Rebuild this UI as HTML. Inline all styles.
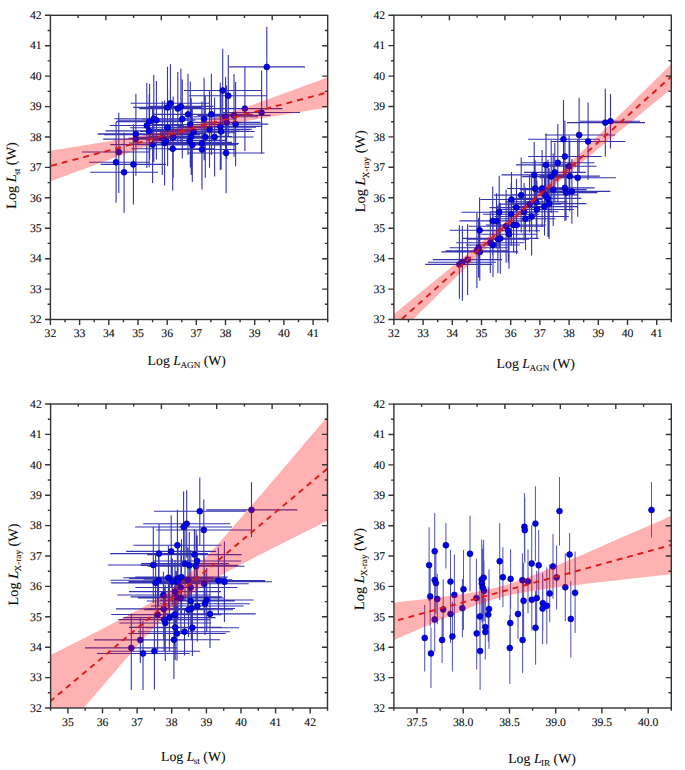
<!DOCTYPE html>
<html><head><meta charset="utf-8"><style>
html,body{margin:0;padding:0;background:#fff;overflow:hidden;width:685px;height:770px;}
svg{display:block;font-family:"Liberation Serif", serif;text-rendering:geometricPrecision;}
</style></head><body>
<svg width="685" height="770" viewBox="0 0 685 770">
<rect width="685" height="770" fill="#fff"/>
<clipPath id="cp1"><rect x="50.4" y="15.3" width="277.3" height="304.2"/></clipPath>
<g clip-path="url(#cp1)">
<path d="M82.0 152.0H150.0M118.8 112.8V193.0M89.1 162.3H150.0M116.1 122.0V202.8M90.0 172.3H158.0M124.1 132.5V212.7M100.7 164.4H166.1M133.4 124.3V204.5M97.5 134.1H172.0M135.9 93.8V175.7M103.1 139.1H168.7M135.9 102.4V175.8M109.7 125.5H183.9M146.8 82.9V168.1M116.1 121.6H183.1M149.6 83.8V159.4M114.3 118.7H193.3M153.8 75.1V162.3M117.5 120.2H195.3M156.4 81.0V159.4M105.5 130.9H192.9M149.2 94.5V167.3M110.3 144.6H194.9M152.6 106.3V182.9M128.6 138.2H196.0M162.3 101.3V175.1M128.9 143.0H200.3M164.6 100.5V185.5M133.3 107.4H201.7M167.5 66.7V148.1M130.7 103.2H210.1M170.4 64.2V142.2M139.2 108.6H216.4M177.8 72.1V145.1M148.2 106.4H213.6M180.9 68.8V144.0M142.1 119.0H222.5M182.3 79.6V158.4M152.2 114.4H223.8M188.0 73.7V155.1M130.2 127.8H205.0M167.6 89.4V166.2M131.2 148.8H214.2M172.7 107.2V190.4M138.3 137.2H208.1M173.2 96.6V177.8M152.0 124.5H228.6M190.3 81.5V167.5M150.4 136.5H232.0M191.2 98.2V174.8M148.5 145.0H236.1M192.3 108.1V181.9M164.9 143.5H238.9M201.9 101.4V185.6M168.2 149.5H235.8M202.0 109.6V189.4M171.6 119.0H236.6M204.1 77.7V160.3M170.2 114.3H252.6M211.4 73.7V154.9M167.0 129.3H252.0M209.5 90.8V167.8M165.0 137.0H245.6M205.3 96.2V177.8M175.6 137.0H253.6M214.6 97.4V176.6M178.2 126.4H262.4M220.3 82.8V170.0M184.0 90.5H261.9M222.7 48.7V132.0M189.0 95.8H267.3M228.3 54.9V136.7M207.5 108.6H282.3M244.9 66.9V151.0M223.0 112.5H300.1M261.6 70.5V153.7M197.4 115.4H270.6M234.0 74.1V156.7M193.3 116.7H257.9M225.6 77.0V156.4M192.6 122.4H260.6M226.6 85.5V159.3M202.9 124.1H268.3M235.6 82.0V166.2M187.5 131.5H254.7M221.1 93.5V169.5M188.0 153.0H264.6M226.1 113.0V193.3M229.1 66.9H305.0M266.8 26.8V107.0M99.0 133.8H206.0M104.0 134.6H200.0M148.0 136.2H228.0M150.0 138.3H214.0M140.0 131.4H240.0M150.0 129.6H250.0M152.0 140.4H226.0M155.0 142.4H232.0M170.0 127.2H256.0M160.0 132.8H236.0M160.0 144.2H238.0" stroke="#1e1ea8" stroke-opacity="0.9" stroke-width="1.1" fill="none"/>
<circle cx="118.8" cy="152.0" r="2.95" fill="#0000f4" stroke="#00006a" stroke-width="0.6"/>
<circle cx="116.1" cy="162.3" r="2.95" fill="#0000f4" stroke="#00006a" stroke-width="0.6"/>
<circle cx="124.1" cy="172.3" r="2.95" fill="#0000f4" stroke="#00006a" stroke-width="0.6"/>
<circle cx="133.4" cy="164.4" r="2.95" fill="#0000f4" stroke="#00006a" stroke-width="0.6"/>
<circle cx="135.9" cy="134.1" r="2.95" fill="#0000f4" stroke="#00006a" stroke-width="0.6"/>
<circle cx="135.9" cy="139.1" r="2.95" fill="#0000f4" stroke="#00006a" stroke-width="0.6"/>
<circle cx="146.8" cy="125.5" r="2.95" fill="#0000f4" stroke="#00006a" stroke-width="0.6"/>
<circle cx="149.6" cy="121.6" r="2.95" fill="#0000f4" stroke="#00006a" stroke-width="0.6"/>
<circle cx="153.8" cy="118.7" r="2.95" fill="#0000f4" stroke="#00006a" stroke-width="0.6"/>
<circle cx="156.4" cy="120.2" r="2.95" fill="#0000f4" stroke="#00006a" stroke-width="0.6"/>
<circle cx="149.2" cy="130.9" r="2.95" fill="#0000f4" stroke="#00006a" stroke-width="0.6"/>
<circle cx="152.6" cy="144.6" r="2.95" fill="#0000f4" stroke="#00006a" stroke-width="0.6"/>
<circle cx="162.3" cy="138.2" r="2.95" fill="#0000f4" stroke="#00006a" stroke-width="0.6"/>
<circle cx="164.6" cy="143.0" r="2.95" fill="#0000f4" stroke="#00006a" stroke-width="0.6"/>
<circle cx="167.5" cy="107.4" r="2.95" fill="#0000f4" stroke="#00006a" stroke-width="0.6"/>
<circle cx="170.4" cy="103.2" r="2.95" fill="#0000f4" stroke="#00006a" stroke-width="0.6"/>
<circle cx="177.8" cy="108.6" r="2.95" fill="#0000f4" stroke="#00006a" stroke-width="0.6"/>
<circle cx="180.9" cy="106.4" r="2.95" fill="#0000f4" stroke="#00006a" stroke-width="0.6"/>
<circle cx="182.3" cy="119.0" r="2.95" fill="#0000f4" stroke="#00006a" stroke-width="0.6"/>
<circle cx="188.0" cy="114.4" r="2.95" fill="#0000f4" stroke="#00006a" stroke-width="0.6"/>
<circle cx="167.6" cy="127.8" r="2.95" fill="#0000f4" stroke="#00006a" stroke-width="0.6"/>
<circle cx="172.7" cy="148.8" r="2.95" fill="#0000f4" stroke="#00006a" stroke-width="0.6"/>
<circle cx="173.2" cy="137.2" r="2.95" fill="#0000f4" stroke="#00006a" stroke-width="0.6"/>
<circle cx="190.3" cy="124.5" r="2.95" fill="#0000f4" stroke="#00006a" stroke-width="0.6"/>
<circle cx="191.2" cy="136.5" r="2.95" fill="#0000f4" stroke="#00006a" stroke-width="0.6"/>
<circle cx="192.3" cy="145.0" r="2.95" fill="#0000f4" stroke="#00006a" stroke-width="0.6"/>
<circle cx="201.9" cy="143.5" r="2.95" fill="#0000f4" stroke="#00006a" stroke-width="0.6"/>
<circle cx="202.0" cy="149.5" r="2.95" fill="#0000f4" stroke="#00006a" stroke-width="0.6"/>
<circle cx="204.1" cy="119.0" r="2.95" fill="#0000f4" stroke="#00006a" stroke-width="0.6"/>
<circle cx="211.4" cy="114.3" r="2.95" fill="#0000f4" stroke="#00006a" stroke-width="0.6"/>
<circle cx="209.5" cy="129.3" r="2.95" fill="#0000f4" stroke="#00006a" stroke-width="0.6"/>
<circle cx="205.3" cy="137.0" r="2.95" fill="#0000f4" stroke="#00006a" stroke-width="0.6"/>
<circle cx="214.6" cy="137.0" r="2.95" fill="#0000f4" stroke="#00006a" stroke-width="0.6"/>
<circle cx="220.3" cy="126.4" r="2.95" fill="#0000f4" stroke="#00006a" stroke-width="0.6"/>
<circle cx="222.7" cy="90.5" r="2.95" fill="#0000f4" stroke="#00006a" stroke-width="0.6"/>
<circle cx="228.3" cy="95.8" r="2.95" fill="#0000f4" stroke="#00006a" stroke-width="0.6"/>
<circle cx="244.9" cy="108.6" r="2.95" fill="#0000f4" stroke="#00006a" stroke-width="0.6"/>
<circle cx="261.6" cy="112.5" r="2.95" fill="#0000f4" stroke="#00006a" stroke-width="0.6"/>
<circle cx="234.0" cy="115.4" r="2.95" fill="#0000f4" stroke="#00006a" stroke-width="0.6"/>
<circle cx="225.6" cy="116.7" r="2.95" fill="#0000f4" stroke="#00006a" stroke-width="0.6"/>
<circle cx="226.6" cy="122.4" r="2.95" fill="#0000f4" stroke="#00006a" stroke-width="0.6"/>
<circle cx="235.6" cy="124.1" r="2.95" fill="#0000f4" stroke="#00006a" stroke-width="0.6"/>
<circle cx="221.1" cy="131.5" r="2.95" fill="#0000f4" stroke="#00006a" stroke-width="0.6"/>
<circle cx="226.1" cy="153.0" r="2.95" fill="#0000f4" stroke="#00006a" stroke-width="0.6"/>
<circle cx="266.8" cy="66.9" r="2.95" fill="#0000f4" stroke="#00006a" stroke-width="0.6"/>
<circle cx="193.6" cy="131.8" r="2.95" fill="#0000f4" stroke="#00006a" stroke-width="0.6"/>
<circle cx="189.6" cy="140.8" r="2.95" fill="#0000f4" stroke="#00006a" stroke-width="0.6"/>
<circle cx="166.0" cy="141.0" r="2.95" fill="#0000f4" stroke="#00006a" stroke-width="0.6"/>
<polygon points="50.4,150.7 55.0,150.0 59.6,149.2 64.3,148.5 68.9,147.7 73.5,147.0 78.1,146.2 82.8,145.4 87.4,144.7 92.0,143.9 96.6,143.2 101.2,142.4 105.9,141.7 110.5,140.9 115.1,140.1 119.7,139.3 124.3,138.6 129.0,137.8 133.6,137.0 138.2,136.2 142.8,135.4 147.5,134.5 152.1,133.7 156.7,132.8 161.3,131.9 165.9,131.0 170.6,130.1 175.2,129.1 179.8,128.0 184.4,126.9 189.1,125.7 193.7,124.5 198.3,123.2 202.9,121.8 207.5,120.4 212.2,118.9 216.8,117.3 221.4,115.8 226.0,114.2 230.6,112.6 235.3,111.0 239.9,109.4 244.5,107.7 249.1,106.1 253.8,104.4 258.4,102.7 263.0,101.0 267.6,99.4 272.2,97.7 276.9,96.0 281.5,94.3 286.1,92.6 290.7,90.9 295.3,89.2 300.0,87.5 304.6,85.8 309.2,84.1 313.8,82.4 318.5,80.7 323.1,79.0 327.7,77.3 327.7,107.5 323.1,108.3 318.5,109.0 313.8,109.7 309.2,110.5 304.6,111.2 300.0,112.0 295.3,112.8 290.7,113.5 286.1,114.3 281.5,115.0 276.9,115.8 272.2,116.6 267.6,117.3 263.0,118.1 258.4,118.9 253.8,119.7 249.1,120.5 244.5,121.3 239.9,122.1 235.3,122.9 230.6,123.7 226.0,124.6 221.4,125.4 216.8,126.3 212.2,127.3 207.5,128.2 202.9,129.2 198.3,130.3 193.7,131.5 189.1,132.7 184.4,133.9 179.8,135.3 175.2,136.7 170.6,138.1 165.9,139.6 161.3,141.2 156.7,142.8 152.1,144.3 147.5,146.0 142.8,147.6 138.2,149.2 133.6,150.9 129.0,152.5 124.3,154.2 119.7,155.9 115.1,157.5 110.5,159.2 105.9,160.9 101.2,162.6 96.6,164.3 92.0,166.0 87.4,167.7 82.8,169.4 78.1,171.1 73.5,172.8 68.9,174.5 64.3,176.2 59.6,177.9 55.0,179.6 50.4,181.3" fill="#ff0000" fill-opacity="0.3"/>
<line x1="50.4" y1="166.0" x2="327.7" y2="92.4" stroke="#dc1a1a" stroke-width="1.9" stroke-dasharray="5.98 5.09" stroke-dashoffset="-0.7"/>
</g>
<rect x="50.4" y="15.3" width="277.3" height="304.2" fill="none" stroke="#333333" stroke-width="1.4"/>
<path d="M44.9 319.5H50.4M47.6 304.3H50.4M324.9 304.3H327.7M44.9 289.1H50.4M322.2 289.1H327.7M47.6 273.9H50.4M324.9 273.9H327.7M44.9 258.7H50.4M322.2 258.7H327.7M47.6 243.4H50.4M324.9 243.4H327.7M44.9 228.2H50.4M322.2 228.2H327.7M47.6 213.0H50.4M324.9 213.0H327.7M44.9 197.8H50.4M322.2 197.8H327.7M47.6 182.6H50.4M324.9 182.6H327.7M44.9 167.4H50.4M322.2 167.4H327.7M47.6 152.2H50.4M324.9 152.2H327.7M44.9 137.0H50.4M322.2 137.0H327.7M47.6 121.8H50.4M324.9 121.8H327.7M44.9 106.6H50.4M322.2 106.6H327.7M47.6 91.4H50.4M324.9 91.4H327.7M44.9 76.1H50.4M322.2 76.1H327.7M47.6 60.9H50.4M324.9 60.9H327.7M44.9 45.7H50.4M322.2 45.7H327.7M47.6 30.5H50.4M324.9 30.5H327.7M44.9 15.3H50.4M50.4 319.5V324.9M65.0 319.5V322.3M79.6 319.5V324.9M94.2 319.5V322.3M108.8 319.5V324.9M123.4 319.5V322.3M138.0 319.5V324.9M152.6 319.5V322.3M167.2 319.5V324.9M181.8 319.5V322.3M196.3 319.5V324.9M210.9 319.5V322.3M225.5 319.5V324.9M240.1 319.5V322.3M254.7 319.5V324.9M269.3 319.5V322.3M283.9 319.5V324.9M298.5 319.5V322.3M313.1 319.5V324.9M327.7 319.5V322.3M78.1 15.3V17.9M105.9 15.3V20.3M133.6 15.3V17.9M161.3 15.3V20.3M189.1 15.3V17.9M216.8 15.3V20.3M244.5 15.3V17.9M272.2 15.3V20.3M300.0 15.3V17.9" stroke="#333333" stroke-width="1.4" fill="none"/>
<text x="41.6" y="323.2" text-anchor="end" font-size="11.7" fill="#0a0a0a" stroke="#0a0a0a" stroke-width="0.08">32</text>
<text x="41.6" y="292.8" text-anchor="end" font-size="11.7" fill="#0a0a0a" stroke="#0a0a0a" stroke-width="0.08">33</text>
<text x="41.6" y="262.4" text-anchor="end" font-size="11.7" fill="#0a0a0a" stroke="#0a0a0a" stroke-width="0.08">34</text>
<text x="41.6" y="231.9" text-anchor="end" font-size="11.7" fill="#0a0a0a" stroke="#0a0a0a" stroke-width="0.08">35</text>
<text x="41.6" y="201.5" text-anchor="end" font-size="11.7" fill="#0a0a0a" stroke="#0a0a0a" stroke-width="0.08">36</text>
<text x="41.6" y="171.1" text-anchor="end" font-size="11.7" fill="#0a0a0a" stroke="#0a0a0a" stroke-width="0.08">37</text>
<text x="41.6" y="140.7" text-anchor="end" font-size="11.7" fill="#0a0a0a" stroke="#0a0a0a" stroke-width="0.08">38</text>
<text x="41.6" y="110.3" text-anchor="end" font-size="11.7" fill="#0a0a0a" stroke="#0a0a0a" stroke-width="0.08">39</text>
<text x="41.6" y="79.8" text-anchor="end" font-size="11.7" fill="#0a0a0a" stroke="#0a0a0a" stroke-width="0.08">40</text>
<text x="41.6" y="49.4" text-anchor="end" font-size="11.7" fill="#0a0a0a" stroke="#0a0a0a" stroke-width="0.08">41</text>
<text x="41.6" y="19.0" text-anchor="end" font-size="11.7" fill="#0a0a0a" stroke="#0a0a0a" stroke-width="0.08">42</text>
<text x="50.4" y="337.4" text-anchor="middle" font-size="11.7" fill="#0a0a0a" stroke="#0a0a0a" stroke-width="0.08">32</text>
<text x="79.6" y="337.4" text-anchor="middle" font-size="11.7" fill="#0a0a0a" stroke="#0a0a0a" stroke-width="0.08">33</text>
<text x="108.8" y="337.4" text-anchor="middle" font-size="11.7" fill="#0a0a0a" stroke="#0a0a0a" stroke-width="0.08">34</text>
<text x="138.0" y="337.4" text-anchor="middle" font-size="11.7" fill="#0a0a0a" stroke="#0a0a0a" stroke-width="0.08">35</text>
<text x="167.2" y="337.4" text-anchor="middle" font-size="11.7" fill="#0a0a0a" stroke="#0a0a0a" stroke-width="0.08">36</text>
<text x="196.3" y="337.4" text-anchor="middle" font-size="11.7" fill="#0a0a0a" stroke="#0a0a0a" stroke-width="0.08">37</text>
<text x="225.5" y="337.4" text-anchor="middle" font-size="11.7" fill="#0a0a0a" stroke="#0a0a0a" stroke-width="0.08">38</text>
<text x="254.7" y="337.4" text-anchor="middle" font-size="11.7" fill="#0a0a0a" stroke="#0a0a0a" stroke-width="0.08">39</text>
<text x="283.9" y="337.4" text-anchor="middle" font-size="11.7" fill="#0a0a0a" stroke="#0a0a0a" stroke-width="0.08">40</text>
<text x="313.1" y="337.4" text-anchor="middle" font-size="11.7" fill="#0a0a0a" stroke="#0a0a0a" stroke-width="0.08">41</text>
<text x="147.6" y="364.5" font-size="13.8" fill="#0a0a0a" stroke="#0a0a0a" stroke-width="0.08">Log <tspan font-style="italic">L</tspan><tspan font-size="9.2" dx="-0.6" dy="3.3">AGN</tspan><tspan dy="-3.3"> (W)</tspan></text>
<text x="16.5" y="208.8" transform="rotate(-90 16.5 208.8)" font-size="14.3" fill="#0a0a0a" stroke="#0a0a0a" stroke-width="0.08">Log <tspan font-style="italic">L</tspan><tspan font-size="9.2" dx="-0.6" dy="3.3">st</tspan><tspan dy="-3.3"> (W)</tspan></text>
<clipPath id="cp2"><rect x="393.9" y="15.2" width="277.4" height="304.3"/></clipPath>
<g clip-path="url(#cp2)">
<path d="M425.2 264.4H492.0M459.4 225.3V299.1M428.0 262.2H496.0M462.4 226.0V300.8M432.8 259.6H502.0M467.6 224.3V294.9M445.6 250.7H508.2M476.9 213.1V288.3M441.3 251.9H518.3M479.8 223.1V280.7M449.5 247.8H507.7M478.6 218.0V277.6M449.8 230.3H509.4M479.6 197.5V263.1M456.2 242.7H524.4M490.3 212.5V272.9M466.0 245.0H520.0M493.0 213.0V277.0M466.5 239.1H529.3M497.9 205.3V272.9M461.9 238.4H538.7M500.3 203.1V273.7M459.5 220.9H525.9M492.7 186.5V255.3M461.4 220.9H531.6M496.5 193.3V248.5M461.4 212.2H537.0M499.2 175.8V248.6M468.6 226.2H543.6M506.1 189.6V262.8M476.6 230.8H540.0M508.3 199.0V262.6M480.8 234.2H537.2M509.0 199.6V268.8M485.9 225.0H541.3M513.6 197.2V252.8M487.1 225.0H546.1M516.6 196.1V253.9M480.4 199.5H542.6M511.5 171.9V227.1M489.5 207.6H543.5M516.5 178.8V236.4M483.0 214.3H539.4M511.2 182.9V245.7M493.9 195.1H548.5M521.2 157.6V232.6M489.7 211.7H558.5M524.1 182.9V240.5M495.5 218.7H555.5M525.5 187.5V249.9M498.2 204.1H561.0M529.6 175.6V232.6M494.4 216.5H568.8M531.6 177.6V255.4M501.6 174.9H566.8M534.2 142.1V207.7M507.1 188.5H563.1M535.1 160.3V216.7M505.2 201.9H567.4M536.3 171.7V232.1M500.0 209.5H573.8M536.9 180.6V238.4M514.8 188.5H569.4M542.1 150.1V226.9M511.2 206.6H577.8M544.5 177.8V235.4M511.5 194.9H578.5M545.0 167.6V222.2M514.7 198.4H581.3M548.0 159.7V237.1M511.7 203.6H586.5M549.1 168.2V239.0M515.9 164.9H576.1M546.0 133.5V196.3M522.2 176.6H580.2M551.2 140.3V212.9M519.8 189.6H586.6M553.2 153.3V225.9M523.8 172.4H585.8M554.8 142.7V202.1M521.1 162.8H594.5M557.8 124.0V201.6M528.0 139.2H600.0M563.5 100.1V178.0M528.1 156.5H601.7M564.9 120.6V192.4M535.2 187.9H594.6M564.9 154.7V221.1M534.8 192.6H597.4M566.1 165.3V219.9M541.8 166.2H596.4M569.1 135.8V196.6M539.6 176.1H599.8M569.7 140.8V211.4M533.4 191.4H610.4M571.9 159.0V223.8M539.5 177.8H615.9M577.7 138.9V216.7M545.0 135.0H615.0M579.1 97.8V172.0M551.0 141.5H625.4M588.1 102.6V180.0M567.0 122.6H645.0M605.3 88.8V156.6M580.0 121.2H640.0M610.5 93.9V148.6" stroke="#1e1ea8" stroke-opacity="0.9" stroke-width="1.1" fill="none"/>
<circle cx="459.4" cy="264.4" r="2.95" fill="#0000f4" stroke="#00006a" stroke-width="0.6"/>
<circle cx="462.4" cy="262.2" r="2.95" fill="#0000f4" stroke="#00006a" stroke-width="0.6"/>
<circle cx="467.6" cy="259.6" r="2.95" fill="#0000f4" stroke="#00006a" stroke-width="0.6"/>
<circle cx="476.9" cy="250.7" r="2.95" fill="#0000f4" stroke="#00006a" stroke-width="0.6"/>
<circle cx="479.8" cy="251.9" r="2.95" fill="#0000f4" stroke="#00006a" stroke-width="0.6"/>
<circle cx="478.6" cy="247.8" r="2.95" fill="#0000f4" stroke="#00006a" stroke-width="0.6"/>
<circle cx="479.6" cy="230.3" r="2.95" fill="#0000f4" stroke="#00006a" stroke-width="0.6"/>
<circle cx="490.3" cy="242.7" r="2.95" fill="#0000f4" stroke="#00006a" stroke-width="0.6"/>
<circle cx="493.0" cy="245.0" r="2.95" fill="#0000f4" stroke="#00006a" stroke-width="0.6"/>
<circle cx="497.9" cy="239.1" r="2.95" fill="#0000f4" stroke="#00006a" stroke-width="0.6"/>
<circle cx="500.3" cy="238.4" r="2.95" fill="#0000f4" stroke="#00006a" stroke-width="0.6"/>
<circle cx="492.7" cy="220.9" r="2.95" fill="#0000f4" stroke="#00006a" stroke-width="0.6"/>
<circle cx="496.5" cy="220.9" r="2.95" fill="#0000f4" stroke="#00006a" stroke-width="0.6"/>
<circle cx="499.2" cy="212.2" r="2.95" fill="#0000f4" stroke="#00006a" stroke-width="0.6"/>
<circle cx="506.1" cy="226.2" r="2.95" fill="#0000f4" stroke="#00006a" stroke-width="0.6"/>
<circle cx="508.3" cy="230.8" r="2.95" fill="#0000f4" stroke="#00006a" stroke-width="0.6"/>
<circle cx="509.0" cy="234.2" r="2.95" fill="#0000f4" stroke="#00006a" stroke-width="0.6"/>
<circle cx="513.6" cy="225.0" r="2.95" fill="#0000f4" stroke="#00006a" stroke-width="0.6"/>
<circle cx="516.6" cy="225.0" r="2.95" fill="#0000f4" stroke="#00006a" stroke-width="0.6"/>
<circle cx="511.5" cy="199.5" r="2.95" fill="#0000f4" stroke="#00006a" stroke-width="0.6"/>
<circle cx="516.5" cy="207.6" r="2.95" fill="#0000f4" stroke="#00006a" stroke-width="0.6"/>
<circle cx="511.2" cy="214.3" r="2.95" fill="#0000f4" stroke="#00006a" stroke-width="0.6"/>
<circle cx="521.2" cy="195.1" r="2.95" fill="#0000f4" stroke="#00006a" stroke-width="0.6"/>
<circle cx="524.1" cy="211.7" r="2.95" fill="#0000f4" stroke="#00006a" stroke-width="0.6"/>
<circle cx="525.5" cy="218.7" r="2.95" fill="#0000f4" stroke="#00006a" stroke-width="0.6"/>
<circle cx="529.6" cy="204.1" r="2.95" fill="#0000f4" stroke="#00006a" stroke-width="0.6"/>
<circle cx="531.6" cy="216.5" r="2.95" fill="#0000f4" stroke="#00006a" stroke-width="0.6"/>
<circle cx="534.2" cy="174.9" r="2.95" fill="#0000f4" stroke="#00006a" stroke-width="0.6"/>
<circle cx="535.1" cy="188.5" r="2.95" fill="#0000f4" stroke="#00006a" stroke-width="0.6"/>
<circle cx="536.3" cy="201.9" r="2.95" fill="#0000f4" stroke="#00006a" stroke-width="0.6"/>
<circle cx="536.9" cy="209.5" r="2.95" fill="#0000f4" stroke="#00006a" stroke-width="0.6"/>
<circle cx="542.1" cy="188.5" r="2.95" fill="#0000f4" stroke="#00006a" stroke-width="0.6"/>
<circle cx="544.5" cy="206.6" r="2.95" fill="#0000f4" stroke="#00006a" stroke-width="0.6"/>
<circle cx="545.0" cy="194.9" r="2.95" fill="#0000f4" stroke="#00006a" stroke-width="0.6"/>
<circle cx="548.0" cy="198.4" r="2.95" fill="#0000f4" stroke="#00006a" stroke-width="0.6"/>
<circle cx="549.1" cy="203.6" r="2.95" fill="#0000f4" stroke="#00006a" stroke-width="0.6"/>
<circle cx="546.0" cy="164.9" r="2.95" fill="#0000f4" stroke="#00006a" stroke-width="0.6"/>
<circle cx="551.2" cy="176.6" r="2.95" fill="#0000f4" stroke="#00006a" stroke-width="0.6"/>
<circle cx="553.2" cy="189.6" r="2.95" fill="#0000f4" stroke="#00006a" stroke-width="0.6"/>
<circle cx="554.8" cy="172.4" r="2.95" fill="#0000f4" stroke="#00006a" stroke-width="0.6"/>
<circle cx="557.8" cy="162.8" r="2.95" fill="#0000f4" stroke="#00006a" stroke-width="0.6"/>
<circle cx="563.5" cy="139.2" r="2.95" fill="#0000f4" stroke="#00006a" stroke-width="0.6"/>
<circle cx="564.9" cy="156.5" r="2.95" fill="#0000f4" stroke="#00006a" stroke-width="0.6"/>
<circle cx="564.9" cy="187.9" r="2.95" fill="#0000f4" stroke="#00006a" stroke-width="0.6"/>
<circle cx="566.1" cy="192.6" r="2.95" fill="#0000f4" stroke="#00006a" stroke-width="0.6"/>
<circle cx="569.1" cy="166.2" r="2.95" fill="#0000f4" stroke="#00006a" stroke-width="0.6"/>
<circle cx="569.7" cy="176.1" r="2.95" fill="#0000f4" stroke="#00006a" stroke-width="0.6"/>
<circle cx="571.9" cy="191.4" r="2.95" fill="#0000f4" stroke="#00006a" stroke-width="0.6"/>
<circle cx="577.7" cy="177.8" r="2.95" fill="#0000f4" stroke="#00006a" stroke-width="0.6"/>
<circle cx="579.1" cy="135.0" r="2.95" fill="#0000f4" stroke="#00006a" stroke-width="0.6"/>
<circle cx="588.1" cy="141.5" r="2.95" fill="#0000f4" stroke="#00006a" stroke-width="0.6"/>
<circle cx="605.3" cy="122.6" r="2.95" fill="#0000f4" stroke="#00006a" stroke-width="0.6"/>
<circle cx="610.5" cy="121.2" r="2.95" fill="#0000f4" stroke="#00006a" stroke-width="0.6"/>
<polygon points="393.9,314.2 398.5,310.4 403.1,306.6 407.8,302.8 412.4,299.0 417.0,295.2 421.6,291.5 426.3,287.7 430.9,283.9 435.5,280.1 440.1,276.3 444.8,272.5 449.4,268.7 454.0,264.9 458.6,261.1 463.2,257.3 467.9,253.5 472.5,249.7 477.1,245.8 481.7,242.0 486.4,238.2 491.0,234.3 495.6,230.4 500.2,226.5 504.9,222.6 509.5,218.7 514.1,214.7 518.7,210.7 523.4,206.6 528.0,202.5 532.6,198.3 537.2,194.1 541.8,189.8 546.5,185.5 551.1,181.2 555.7,176.8 560.3,172.4 565.0,168.0 569.6,163.5 574.2,159.1 578.8,154.6 583.5,150.1 588.1,145.6 592.7,141.1 597.3,136.6 601.9,132.1 606.6,127.6 611.2,123.0 615.8,118.5 620.4,114.0 625.1,109.5 629.7,104.9 634.3,100.4 638.9,95.8 643.6,91.3 648.2,86.8 652.8,82.2 657.4,77.7 662.1,73.1 666.7,68.6 671.3,64.1 671.3,88.9 666.7,92.7 662.1,96.5 657.4,100.3 652.8,104.1 648.2,107.8 643.6,111.6 638.9,115.4 634.3,119.2 629.7,123.0 625.1,126.8 620.4,130.6 615.8,134.4 611.2,138.2 606.6,142.0 601.9,145.8 597.3,149.6 592.7,153.4 588.1,157.2 583.5,161.0 578.8,164.9 574.2,168.7 569.6,172.6 565.0,176.4 560.3,180.3 555.7,184.2 551.1,188.2 546.5,192.2 541.8,196.2 537.2,200.2 532.6,204.3 528.0,208.5 523.4,212.7 518.7,217.0 514.1,221.3 509.5,225.6 504.9,230.0 500.2,234.4 495.6,238.8 491.0,243.3 486.4,247.7 481.7,252.2 477.1,256.7 472.5,261.2 467.9,265.7 463.2,270.2 458.6,274.7 454.0,279.2 449.4,283.7 444.8,288.3 440.1,292.8 435.5,297.3 430.9,301.9 426.3,306.4 421.6,310.9 417.0,315.5 412.4,320.0 407.8,324.5 403.1,329.1 398.5,333.6 393.9,338.2" fill="#ff0000" fill-opacity="0.3"/>
<line x1="393.9" y1="326.2" x2="671.3" y2="76.5" stroke="#dc1a1a" stroke-width="1.9" stroke-dasharray="5.86 5.00" stroke-dashoffset="0.0"/>
</g>
<rect x="393.9" y="15.2" width="277.4" height="304.3" fill="none" stroke="#333333" stroke-width="1.4"/>
<path d="M388.4 319.5H393.9M391.1 304.3H393.9M668.5 304.3H671.3M388.4 289.1H393.9M665.8 289.1H671.3M391.1 273.9H393.9M668.5 273.9H671.3M388.4 258.6H393.9M665.8 258.6H671.3M391.1 243.4H393.9M668.5 243.4H671.3M388.4 228.2H393.9M665.8 228.2H671.3M391.1 213.0H393.9M668.5 213.0H671.3M388.4 197.8H393.9M665.8 197.8H671.3M391.1 182.6H393.9M668.5 182.6H671.3M388.4 167.3H393.9M665.8 167.3H671.3M391.1 152.1H393.9M668.5 152.1H671.3M388.4 136.9H393.9M665.8 136.9H671.3M391.1 121.7H393.9M668.5 121.7H671.3M388.4 106.5H393.9M665.8 106.5H671.3M391.1 91.3H393.9M668.5 91.3H671.3M388.4 76.1H393.9M665.8 76.1H671.3M391.1 60.8H393.9M668.5 60.8H671.3M388.4 45.6H393.9M665.8 45.6H671.3M391.1 30.4H393.9M668.5 30.4H671.3M388.4 15.2H393.9M393.9 319.5V324.9M408.5 319.5V322.3M423.1 319.5V324.9M437.7 319.5V322.3M452.3 319.5V324.9M466.9 319.5V322.3M481.5 319.5V324.9M496.1 319.5V322.3M510.7 319.5V324.9M525.3 319.5V322.3M539.9 319.5V324.9M554.5 319.5V322.3M569.1 319.5V324.9M583.7 319.5V322.3M598.3 319.5V324.9M612.9 319.5V322.3M627.5 319.5V324.9M642.1 319.5V322.3M656.7 319.5V324.9M671.3 319.5V322.3M421.6 15.2V17.8M449.4 15.2V20.2M477.1 15.2V17.8M504.9 15.2V20.2M532.6 15.2V17.8M560.3 15.2V20.2M588.1 15.2V17.8M615.8 15.2V20.2M643.6 15.2V17.8" stroke="#333333" stroke-width="1.4" fill="none"/>
<text x="385.1" y="323.2" text-anchor="end" font-size="11.7" fill="#0a0a0a" stroke="#0a0a0a" stroke-width="0.08">32</text>
<text x="385.1" y="292.8" text-anchor="end" font-size="11.7" fill="#0a0a0a" stroke="#0a0a0a" stroke-width="0.08">33</text>
<text x="385.1" y="262.3" text-anchor="end" font-size="11.7" fill="#0a0a0a" stroke="#0a0a0a" stroke-width="0.08">34</text>
<text x="385.1" y="231.9" text-anchor="end" font-size="11.7" fill="#0a0a0a" stroke="#0a0a0a" stroke-width="0.08">35</text>
<text x="385.1" y="201.5" text-anchor="end" font-size="11.7" fill="#0a0a0a" stroke="#0a0a0a" stroke-width="0.08">36</text>
<text x="385.1" y="171.0" text-anchor="end" font-size="11.7" fill="#0a0a0a" stroke="#0a0a0a" stroke-width="0.08">37</text>
<text x="385.1" y="140.6" text-anchor="end" font-size="11.7" fill="#0a0a0a" stroke="#0a0a0a" stroke-width="0.08">38</text>
<text x="385.1" y="110.2" text-anchor="end" font-size="11.7" fill="#0a0a0a" stroke="#0a0a0a" stroke-width="0.08">39</text>
<text x="385.1" y="79.8" text-anchor="end" font-size="11.7" fill="#0a0a0a" stroke="#0a0a0a" stroke-width="0.08">40</text>
<text x="385.1" y="49.3" text-anchor="end" font-size="11.7" fill="#0a0a0a" stroke="#0a0a0a" stroke-width="0.08">41</text>
<text x="385.1" y="18.9" text-anchor="end" font-size="11.7" fill="#0a0a0a" stroke="#0a0a0a" stroke-width="0.08">42</text>
<text x="393.9" y="337.4" text-anchor="middle" font-size="11.7" fill="#0a0a0a" stroke="#0a0a0a" stroke-width="0.08">32</text>
<text x="423.1" y="337.4" text-anchor="middle" font-size="11.7" fill="#0a0a0a" stroke="#0a0a0a" stroke-width="0.08">33</text>
<text x="452.3" y="337.4" text-anchor="middle" font-size="11.7" fill="#0a0a0a" stroke="#0a0a0a" stroke-width="0.08">34</text>
<text x="481.5" y="337.4" text-anchor="middle" font-size="11.7" fill="#0a0a0a" stroke="#0a0a0a" stroke-width="0.08">35</text>
<text x="510.7" y="337.4" text-anchor="middle" font-size="11.7" fill="#0a0a0a" stroke="#0a0a0a" stroke-width="0.08">36</text>
<text x="539.9" y="337.4" text-anchor="middle" font-size="11.7" fill="#0a0a0a" stroke="#0a0a0a" stroke-width="0.08">37</text>
<text x="569.1" y="337.4" text-anchor="middle" font-size="11.7" fill="#0a0a0a" stroke="#0a0a0a" stroke-width="0.08">38</text>
<text x="598.3" y="337.4" text-anchor="middle" font-size="11.7" fill="#0a0a0a" stroke="#0a0a0a" stroke-width="0.08">39</text>
<text x="627.5" y="337.4" text-anchor="middle" font-size="11.7" fill="#0a0a0a" stroke="#0a0a0a" stroke-width="0.08">40</text>
<text x="656.7" y="337.4" text-anchor="middle" font-size="11.7" fill="#0a0a0a" stroke="#0a0a0a" stroke-width="0.08">41</text>
<text x="496.6" y="367.7" font-size="13.8" fill="#0a0a0a" stroke="#0a0a0a" stroke-width="0.08">Log <tspan font-style="italic">L</tspan><tspan font-size="9.2" dx="-0.6" dy="3.3">AGN</tspan><tspan dy="-3.3"> (W)</tspan></text>
<text x="365.2" y="212.2" transform="rotate(-90 365.2 212.2)" font-size="14.3" fill="#0a0a0a" stroke="#0a0a0a" stroke-width="0.08">Log <tspan font-style="italic">L</tspan><tspan font-size="9.2" dx="-0.6" dy="3.3">X-ray</tspan><tspan dy="-3.3"> (W)</tspan></text>
<clipPath id="cp3"><rect x="50.6" y="404.0" width="276.9" height="304.0"/></clipPath>
<g clip-path="url(#cp3)">
<path d="M206.3 509.9H297.4M251.5 482.3V536.9M154.0 511.2H246.0M199.8 477.4V545.0M143.2 523.8H230.2M186.7 490.2V557.4M135.1 527.0H232.1M183.6 491.5V562.5M156.3 530.0H251.3M203.8 499.4V560.6M133.3 545.3H221.5M177.4 509.7V580.9M126.2 551.4H216.2M171.2 515.6V587.2M110.2 553.6H207.8M159.0 524.3V582.9M107.9 565.0H198.7M153.3 526.9V603.1M147.1 554.6H241.7M194.4 528.9V580.3M153.4 561.0H241.0M197.2 535.6V586.4M147.7 566.3H244.5M196.1 530.4V602.2M141.1 563.6H228.9M185.0 527.4V599.8M140.4 565.4H238.2M189.3 531.9V598.9M123.3 577.7H213.5M168.4 545.9V609.5M128.5 581.6H216.1M172.3 558.4V604.8M129.0 578.5H226.6M177.8 545.1V611.9M135.3 577.1H227.7M181.5 539.2V615.0M132.4 582.3H223.6M178.0 545.4V619.2M110.6 580.3H206.6M158.6 553.9V606.7M111.1 582.9H200.1M155.6 555.2V610.6M143.5 579.9H232.3M187.9 547.5V612.3M159.5 583.8H248.7M204.1 554.1V613.5M172.0 580.6H265.0M218.4 547.6V614.7M178.0 581.8H272.0M224.4 541.4V622.0M144.3 587.5H237.3M190.8 550.0V625.0M135.4 587.5H226.4M180.9 549.8V625.2M129.0 591.6H221.0M175.0 560.1V623.1M117.3 595.0H209.5M163.4 571.7V618.3M130.6 596.9H221.8M176.2 571.0V622.8M137.9 598.0H223.9M180.9 562.2V633.8M146.8 601.0H234.8M190.8 570.4V631.6M160.0 600.0H253.4M206.7 568.0V632.0M159.9 603.7H249.9M204.9 572.4V635.0M151.0 606.0H243.6M197.3 570.5V641.5M147.8 608.5H235.0M191.4 576.5V640.5M144.0 609.7H233.0M188.5 582.3V637.1M116.1 608.9H211.3M163.7 577.8V640.0M111.2 614.5H204.0M157.6 579.3V649.7M164.0 613.9H255.7M210.0 580.0V648.0M128.0 614.8H221.4M174.7 583.7V645.9M123.3 617.6H215.5M169.4 583.5V651.7M118.4 619.6H209.8M164.1 588.1V651.1M119.4 623.0H211.2M165.3 584.9V661.1M129.0 627.4H221.8M175.2 595.0V660.0M128.3 633.5H225.7M177.0 606.3V660.7M128.0 639.8H220.0M173.9 600.0V678.9M138.0 631.7H230.0M184.5 610.0V655.5M146.0 627.8H239.0M192.4 600.0V656.1M94.0 639.9H186.0M140.3 616.9V663.1M85.0 647.9H177.0M131.3 613.4V690.0M97.0 653.5H189.7M143.0 621.0V690.0M108.0 651.2H200.2M154.4 614.0V689.4" stroke="#1e1ea8" stroke-opacity="0.9" stroke-width="1.1" fill="none"/>
<circle cx="251.5" cy="509.9" r="2.95" fill="#0000f4" stroke="#00006a" stroke-width="0.6"/>
<circle cx="199.8" cy="511.2" r="2.95" fill="#0000f4" stroke="#00006a" stroke-width="0.6"/>
<circle cx="186.7" cy="523.8" r="2.95" fill="#0000f4" stroke="#00006a" stroke-width="0.6"/>
<circle cx="183.6" cy="527.0" r="2.95" fill="#0000f4" stroke="#00006a" stroke-width="0.6"/>
<circle cx="203.8" cy="530.0" r="2.95" fill="#0000f4" stroke="#00006a" stroke-width="0.6"/>
<circle cx="177.4" cy="545.3" r="2.95" fill="#0000f4" stroke="#00006a" stroke-width="0.6"/>
<circle cx="171.2" cy="551.4" r="2.95" fill="#0000f4" stroke="#00006a" stroke-width="0.6"/>
<circle cx="159.0" cy="553.6" r="2.95" fill="#0000f4" stroke="#00006a" stroke-width="0.6"/>
<circle cx="153.3" cy="565.0" r="2.95" fill="#0000f4" stroke="#00006a" stroke-width="0.6"/>
<circle cx="194.4" cy="554.6" r="2.95" fill="#0000f4" stroke="#00006a" stroke-width="0.6"/>
<circle cx="197.2" cy="561.0" r="2.95" fill="#0000f4" stroke="#00006a" stroke-width="0.6"/>
<circle cx="196.1" cy="566.3" r="2.95" fill="#0000f4" stroke="#00006a" stroke-width="0.6"/>
<circle cx="185.0" cy="563.6" r="2.95" fill="#0000f4" stroke="#00006a" stroke-width="0.6"/>
<circle cx="189.3" cy="565.4" r="2.95" fill="#0000f4" stroke="#00006a" stroke-width="0.6"/>
<circle cx="168.4" cy="577.7" r="2.95" fill="#0000f4" stroke="#00006a" stroke-width="0.6"/>
<circle cx="172.3" cy="581.6" r="2.95" fill="#0000f4" stroke="#00006a" stroke-width="0.6"/>
<circle cx="177.8" cy="578.5" r="2.95" fill="#0000f4" stroke="#00006a" stroke-width="0.6"/>
<circle cx="181.5" cy="577.1" r="2.95" fill="#0000f4" stroke="#00006a" stroke-width="0.6"/>
<circle cx="178.0" cy="582.3" r="2.95" fill="#0000f4" stroke="#00006a" stroke-width="0.6"/>
<circle cx="158.6" cy="580.3" r="2.95" fill="#0000f4" stroke="#00006a" stroke-width="0.6"/>
<circle cx="155.6" cy="582.9" r="2.95" fill="#0000f4" stroke="#00006a" stroke-width="0.6"/>
<circle cx="187.9" cy="579.9" r="2.95" fill="#0000f4" stroke="#00006a" stroke-width="0.6"/>
<circle cx="204.1" cy="583.8" r="2.95" fill="#0000f4" stroke="#00006a" stroke-width="0.6"/>
<circle cx="218.4" cy="580.6" r="2.95" fill="#0000f4" stroke="#00006a" stroke-width="0.6"/>
<circle cx="224.4" cy="581.8" r="2.95" fill="#0000f4" stroke="#00006a" stroke-width="0.6"/>
<circle cx="190.8" cy="587.5" r="2.95" fill="#0000f4" stroke="#00006a" stroke-width="0.6"/>
<circle cx="180.9" cy="587.5" r="2.95" fill="#0000f4" stroke="#00006a" stroke-width="0.6"/>
<circle cx="175.0" cy="591.6" r="2.95" fill="#0000f4" stroke="#00006a" stroke-width="0.6"/>
<circle cx="163.4" cy="595.0" r="2.95" fill="#0000f4" stroke="#00006a" stroke-width="0.6"/>
<circle cx="176.2" cy="596.9" r="2.95" fill="#0000f4" stroke="#00006a" stroke-width="0.6"/>
<circle cx="180.9" cy="598.0" r="2.95" fill="#0000f4" stroke="#00006a" stroke-width="0.6"/>
<circle cx="190.8" cy="601.0" r="2.95" fill="#0000f4" stroke="#00006a" stroke-width="0.6"/>
<circle cx="206.7" cy="600.0" r="2.95" fill="#0000f4" stroke="#00006a" stroke-width="0.6"/>
<circle cx="204.9" cy="603.7" r="2.95" fill="#0000f4" stroke="#00006a" stroke-width="0.6"/>
<circle cx="197.3" cy="606.0" r="2.95" fill="#0000f4" stroke="#00006a" stroke-width="0.6"/>
<circle cx="191.4" cy="608.5" r="2.95" fill="#0000f4" stroke="#00006a" stroke-width="0.6"/>
<circle cx="188.5" cy="609.7" r="2.95" fill="#0000f4" stroke="#00006a" stroke-width="0.6"/>
<circle cx="163.7" cy="608.9" r="2.95" fill="#0000f4" stroke="#00006a" stroke-width="0.6"/>
<circle cx="157.6" cy="614.5" r="2.95" fill="#0000f4" stroke="#00006a" stroke-width="0.6"/>
<circle cx="210.0" cy="613.9" r="2.95" fill="#0000f4" stroke="#00006a" stroke-width="0.6"/>
<circle cx="174.7" cy="614.8" r="2.95" fill="#0000f4" stroke="#00006a" stroke-width="0.6"/>
<circle cx="169.4" cy="617.6" r="2.95" fill="#0000f4" stroke="#00006a" stroke-width="0.6"/>
<circle cx="164.1" cy="619.6" r="2.95" fill="#0000f4" stroke="#00006a" stroke-width="0.6"/>
<circle cx="165.3" cy="623.0" r="2.95" fill="#0000f4" stroke="#00006a" stroke-width="0.6"/>
<circle cx="175.2" cy="627.4" r="2.95" fill="#0000f4" stroke="#00006a" stroke-width="0.6"/>
<circle cx="177.0" cy="633.5" r="2.95" fill="#0000f4" stroke="#00006a" stroke-width="0.6"/>
<circle cx="173.9" cy="639.8" r="2.95" fill="#0000f4" stroke="#00006a" stroke-width="0.6"/>
<circle cx="184.5" cy="631.7" r="2.95" fill="#0000f4" stroke="#00006a" stroke-width="0.6"/>
<circle cx="192.4" cy="627.8" r="2.95" fill="#0000f4" stroke="#00006a" stroke-width="0.6"/>
<circle cx="140.3" cy="639.9" r="2.95" fill="#0000f4" stroke="#00006a" stroke-width="0.6"/>
<circle cx="131.3" cy="647.9" r="2.95" fill="#0000f4" stroke="#00006a" stroke-width="0.6"/>
<circle cx="143.0" cy="653.5" r="2.95" fill="#0000f4" stroke="#00006a" stroke-width="0.6"/>
<circle cx="154.4" cy="651.2" r="2.95" fill="#0000f4" stroke="#00006a" stroke-width="0.6"/>
<polygon points="50.6,655.0 55.2,652.7 59.8,650.4 64.4,648.1 69.1,645.7 73.7,643.4 78.3,641.1 82.9,638.7 87.5,636.4 92.1,634.1 96.8,631.7 101.4,629.3 106.0,627.0 110.6,624.6 115.2,622.2 119.8,619.7 124.4,617.3 129.1,614.8 133.7,612.3 138.3,609.8 142.9,607.2 147.5,604.6 152.1,601.9 156.7,599.1 161.4,596.1 166.0,593.0 170.6,589.8 175.2,586.3 179.8,582.5 184.4,578.6 189.0,574.3 193.7,569.9 198.3,565.2 202.9,560.4 207.5,555.5 212.1,550.5 216.7,545.4 221.4,540.2 226.0,535.0 230.6,529.7 235.2,524.5 239.8,519.2 244.4,513.8 249.0,508.5 253.7,503.1 258.3,497.8 262.9,492.4 267.5,487.0 272.1,481.6 276.7,476.2 281.3,470.8 286.0,465.4 290.6,459.9 295.2,454.5 299.8,449.1 304.4,443.6 309.0,438.2 313.7,432.8 318.3,427.3 322.9,421.9 327.5,416.5 327.5,520.7 322.9,523.1 318.3,525.4 313.7,527.7 309.0,530.0 304.4,532.3 299.8,534.6 295.2,536.9 290.6,539.2 286.0,541.6 281.3,543.9 276.7,546.2 272.1,548.6 267.5,550.9 262.9,553.3 258.3,555.6 253.7,558.0 249.0,560.4 244.4,562.8 239.8,565.2 235.2,567.7 230.6,570.1 226.0,572.6 221.4,575.2 216.7,577.8 212.1,580.4 207.5,583.1 202.9,586.0 198.3,588.9 193.7,592.0 189.0,595.3 184.4,598.8 179.8,602.5 175.2,606.6 170.6,610.8 166.0,615.3 161.4,619.9 156.7,624.8 152.1,629.7 147.5,634.7 142.9,639.8 138.3,645.0 133.7,650.2 129.1,655.5 124.4,660.7 119.8,666.1 115.2,671.4 110.6,676.7 106.0,682.1 101.4,687.5 96.8,692.8 92.1,698.2 87.5,703.6 82.9,709.0 78.3,714.4 73.7,719.9 69.1,725.3 64.4,730.7 59.8,736.1 55.2,741.6 50.6,747.0" fill="#ff0000" fill-opacity="0.3"/>
<line x1="50.6" y1="701.0" x2="327.5" y2="468.6" stroke="#dc1a1a" stroke-width="1.9" stroke-dasharray="5.66 4.82" stroke-dashoffset="0.82"/>
</g>
<rect x="50.6" y="404.0" width="276.9" height="304.0" fill="none" stroke="#333333" stroke-width="1.4"/>
<path d="M45.1 708.0H50.6M47.8 692.8H50.6M324.7 692.8H327.5M45.1 677.6H50.6M322.0 677.6H327.5M47.8 662.4H50.6M324.7 662.4H327.5M45.1 647.2H50.6M322.0 647.2H327.5M47.8 632.0H50.6M324.7 632.0H327.5M45.1 616.8H50.6M322.0 616.8H327.5M47.8 601.6H50.6M324.7 601.6H327.5M45.1 586.4H50.6M322.0 586.4H327.5M47.8 571.2H50.6M324.7 571.2H327.5M45.1 556.0H50.6M322.0 556.0H327.5M47.8 540.8H50.6M324.7 540.8H327.5M45.1 525.6H50.6M322.0 525.6H327.5M47.8 510.4H50.6M324.7 510.4H327.5M45.1 495.2H50.6M322.0 495.2H327.5M47.8 480.0H50.6M324.7 480.0H327.5M45.1 464.8H50.6M322.0 464.8H327.5M47.8 449.6H50.6M324.7 449.6H327.5M45.1 434.4H50.6M322.0 434.4H327.5M47.8 419.2H50.6M324.7 419.2H327.5M45.1 404.0H50.6M50.6 708.0V710.8M67.9 708.0V713.4M85.2 708.0V710.8M102.5 708.0V713.4M119.8 708.0V710.8M137.1 708.0V713.4M154.4 708.0V710.8M171.7 708.0V713.4M189.0 708.0V710.8M206.4 708.0V713.4M223.7 708.0V710.8M241.0 708.0V713.4M258.3 708.0V710.8M275.6 708.0V713.4M292.9 708.0V710.8M310.2 708.0V713.4M327.5 708.0V710.8M78.3 404.0V406.6M106.0 404.0V409.0M133.7 404.0V406.6M161.4 404.0V409.0M189.0 404.0V406.6M216.7 404.0V409.0M244.4 404.0V406.6M272.1 404.0V409.0M299.8 404.0V406.6" stroke="#333333" stroke-width="1.4" fill="none"/>
<text x="41.8" y="711.7" text-anchor="end" font-size="11.7" fill="#0a0a0a" stroke="#0a0a0a" stroke-width="0.08">32</text>
<text x="41.8" y="681.3" text-anchor="end" font-size="11.7" fill="#0a0a0a" stroke="#0a0a0a" stroke-width="0.08">33</text>
<text x="41.8" y="650.9" text-anchor="end" font-size="11.7" fill="#0a0a0a" stroke="#0a0a0a" stroke-width="0.08">34</text>
<text x="41.8" y="620.5" text-anchor="end" font-size="11.7" fill="#0a0a0a" stroke="#0a0a0a" stroke-width="0.08">35</text>
<text x="41.8" y="590.1" text-anchor="end" font-size="11.7" fill="#0a0a0a" stroke="#0a0a0a" stroke-width="0.08">36</text>
<text x="41.8" y="559.7" text-anchor="end" font-size="11.7" fill="#0a0a0a" stroke="#0a0a0a" stroke-width="0.08">37</text>
<text x="41.8" y="529.3" text-anchor="end" font-size="11.7" fill="#0a0a0a" stroke="#0a0a0a" stroke-width="0.08">38</text>
<text x="41.8" y="498.9" text-anchor="end" font-size="11.7" fill="#0a0a0a" stroke="#0a0a0a" stroke-width="0.08">39</text>
<text x="41.8" y="468.5" text-anchor="end" font-size="11.7" fill="#0a0a0a" stroke="#0a0a0a" stroke-width="0.08">40</text>
<text x="41.8" y="438.1" text-anchor="end" font-size="11.7" fill="#0a0a0a" stroke="#0a0a0a" stroke-width="0.08">41</text>
<text x="41.8" y="407.7" text-anchor="end" font-size="11.7" fill="#0a0a0a" stroke="#0a0a0a" stroke-width="0.08">42</text>
<text x="67.9" y="725.9" text-anchor="middle" font-size="11.7" fill="#0a0a0a" stroke="#0a0a0a" stroke-width="0.08">35</text>
<text x="102.5" y="725.9" text-anchor="middle" font-size="11.7" fill="#0a0a0a" stroke="#0a0a0a" stroke-width="0.08">36</text>
<text x="137.1" y="725.9" text-anchor="middle" font-size="11.7" fill="#0a0a0a" stroke="#0a0a0a" stroke-width="0.08">37</text>
<text x="171.7" y="725.9" text-anchor="middle" font-size="11.7" fill="#0a0a0a" stroke="#0a0a0a" stroke-width="0.08">38</text>
<text x="206.4" y="725.9" text-anchor="middle" font-size="11.7" fill="#0a0a0a" stroke="#0a0a0a" stroke-width="0.08">39</text>
<text x="241.0" y="725.9" text-anchor="middle" font-size="11.7" fill="#0a0a0a" stroke="#0a0a0a" stroke-width="0.08">40</text>
<text x="275.6" y="725.9" text-anchor="middle" font-size="11.7" fill="#0a0a0a" stroke="#0a0a0a" stroke-width="0.08">41</text>
<text x="310.2" y="725.9" text-anchor="middle" font-size="11.7" fill="#0a0a0a" stroke="#0a0a0a" stroke-width="0.08">42</text>
<text x="161.0" y="760.9" font-size="13.8" fill="#0a0a0a" stroke="#0a0a0a" stroke-width="0.08">Log <tspan font-style="italic">L</tspan><tspan font-size="9.2" dx="-0.6" dy="3.3">st</tspan><tspan dy="-3.3"> (W)</tspan></text>
<text x="17.6" y="605.4" transform="rotate(-90 17.6 605.4)" font-size="14.3" fill="#0a0a0a" stroke="#0a0a0a" stroke-width="0.08">Log <tspan font-style="italic">L</tspan><tspan font-size="9.2" dx="-0.6" dy="3.3">X-ray</tspan><tspan dy="-3.3"> (W)</tspan></text>
<clipPath id="cp4"><rect x="393.9" y="404.1" width="277.4" height="303.9"/></clipPath>
<g clip-path="url(#cp4)">
<path d="M424.7 604.9V671.5M431.0 627.4V687.9M429.1 527.2V601.0M434.7 512.9V592.0M445.9 522.9V568.6M434.7 548.1V611.9M435.9 552.7V613.5M430.2 566.3V626.5M437.3 573.7V624.3M434.7 587.5V651.5M443.2 579.2V639.8M442.1 617.0V662.9M450.5 550.0V613.0M454.4 554.4V635.4M450.5 584.7V643.1M452.4 602.0V671.4M470.0 515.7V591.4M463.5 550.0V630.0M462.4 579.0V637.2M476.4 558.4V637.8M476.7 597.2V669.6M480.1 612.0V690.0M479.9 584.7V648.3M481.7 539.6V619.6M483.6 539.9V615.5M481.9 544.8V622.2M482.8 548.8V626.4M484.0 560.4V621.2M489.0 569.2V648.8M488.3 587.5V641.7M485.3 598.3V655.9M485.3 604.4V659.6M499.7 523.0V600.0M502.9 547.3V607.1M510.6 549.3V608.5M510.3 595.2V650.8M509.8 615.0V684.0M518.0 588.8V639.2M524.4 493.0V560.6M524.8 497.6V562.8M522.4 553.5V606.9M528.0 549.5V613.3M523.6 562.4V639.2M522.6 606.9V673.1M535.4 486.2V561.0M531.7 525.2V601.8M538.7 530.1V600.5M531.8 569.2V630.4M536.7 571.0V625.2M535.6 590.9V664.7M542.8 575.6V630.8M546.8 567.3V644.3M542.6 572.8V644.2M549.7 564.5V622.3M553.0 534.0V598.8M556.6 545.4V609.6M559.5 477.0V545.4M565.3 553.5V621.1M569.6 533.0V575.0M575.1 551.6V633.0M570.8 581.2V657.6M651.5 482.0V537.6" stroke="#2626ae" stroke-opacity="0.78" stroke-width="1.05" fill="none"/>
<circle cx="424.7" cy="637.9" r="2.95" fill="#0000f4" stroke="#00006a" stroke-width="0.6"/>
<circle cx="431.0" cy="653.4" r="2.95" fill="#0000f4" stroke="#00006a" stroke-width="0.6"/>
<circle cx="429.1" cy="565.1" r="2.95" fill="#0000f4" stroke="#00006a" stroke-width="0.6"/>
<circle cx="434.7" cy="551.3" r="2.95" fill="#0000f4" stroke="#00006a" stroke-width="0.6"/>
<circle cx="445.9" cy="545.2" r="2.95" fill="#0000f4" stroke="#00006a" stroke-width="0.6"/>
<circle cx="434.7" cy="580.0" r="2.95" fill="#0000f4" stroke="#00006a" stroke-width="0.6"/>
<circle cx="435.9" cy="583.1" r="2.95" fill="#0000f4" stroke="#00006a" stroke-width="0.6"/>
<circle cx="430.2" cy="596.4" r="2.95" fill="#0000f4" stroke="#00006a" stroke-width="0.6"/>
<circle cx="437.3" cy="599.0" r="2.95" fill="#0000f4" stroke="#00006a" stroke-width="0.6"/>
<circle cx="434.7" cy="619.5" r="2.95" fill="#0000f4" stroke="#00006a" stroke-width="0.6"/>
<circle cx="443.2" cy="609.5" r="2.95" fill="#0000f4" stroke="#00006a" stroke-width="0.6"/>
<circle cx="442.1" cy="640.0" r="2.95" fill="#0000f4" stroke="#00006a" stroke-width="0.6"/>
<circle cx="450.5" cy="581.6" r="2.95" fill="#0000f4" stroke="#00006a" stroke-width="0.6"/>
<circle cx="454.4" cy="594.9" r="2.95" fill="#0000f4" stroke="#00006a" stroke-width="0.6"/>
<circle cx="450.5" cy="613.9" r="2.95" fill="#0000f4" stroke="#00006a" stroke-width="0.6"/>
<circle cx="452.4" cy="636.5" r="2.95" fill="#0000f4" stroke="#00006a" stroke-width="0.6"/>
<circle cx="470.0" cy="553.7" r="2.95" fill="#0000f4" stroke="#00006a" stroke-width="0.6"/>
<circle cx="463.5" cy="589.3" r="2.95" fill="#0000f4" stroke="#00006a" stroke-width="0.6"/>
<circle cx="462.4" cy="608.1" r="2.95" fill="#0000f4" stroke="#00006a" stroke-width="0.6"/>
<circle cx="476.4" cy="598.1" r="2.95" fill="#0000f4" stroke="#00006a" stroke-width="0.6"/>
<circle cx="476.7" cy="633.4" r="2.95" fill="#0000f4" stroke="#00006a" stroke-width="0.6"/>
<circle cx="480.1" cy="651.0" r="2.95" fill="#0000f4" stroke="#00006a" stroke-width="0.6"/>
<circle cx="479.9" cy="616.5" r="2.95" fill="#0000f4" stroke="#00006a" stroke-width="0.6"/>
<circle cx="481.7" cy="579.6" r="2.95" fill="#0000f4" stroke="#00006a" stroke-width="0.6"/>
<circle cx="483.6" cy="577.7" r="2.95" fill="#0000f4" stroke="#00006a" stroke-width="0.6"/>
<circle cx="481.9" cy="583.5" r="2.95" fill="#0000f4" stroke="#00006a" stroke-width="0.6"/>
<circle cx="482.8" cy="587.6" r="2.95" fill="#0000f4" stroke="#00006a" stroke-width="0.6"/>
<circle cx="484.0" cy="590.8" r="2.95" fill="#0000f4" stroke="#00006a" stroke-width="0.6"/>
<circle cx="489.0" cy="609.0" r="2.95" fill="#0000f4" stroke="#00006a" stroke-width="0.6"/>
<circle cx="488.3" cy="614.6" r="2.95" fill="#0000f4" stroke="#00006a" stroke-width="0.6"/>
<circle cx="485.3" cy="627.1" r="2.95" fill="#0000f4" stroke="#00006a" stroke-width="0.6"/>
<circle cx="485.3" cy="632.0" r="2.95" fill="#0000f4" stroke="#00006a" stroke-width="0.6"/>
<circle cx="499.7" cy="561.2" r="2.95" fill="#0000f4" stroke="#00006a" stroke-width="0.6"/>
<circle cx="502.9" cy="577.2" r="2.95" fill="#0000f4" stroke="#00006a" stroke-width="0.6"/>
<circle cx="510.6" cy="578.9" r="2.95" fill="#0000f4" stroke="#00006a" stroke-width="0.6"/>
<circle cx="510.3" cy="623.0" r="2.95" fill="#0000f4" stroke="#00006a" stroke-width="0.6"/>
<circle cx="509.8" cy="647.9" r="2.95" fill="#0000f4" stroke="#00006a" stroke-width="0.6"/>
<circle cx="518.0" cy="614.0" r="2.95" fill="#0000f4" stroke="#00006a" stroke-width="0.6"/>
<circle cx="524.4" cy="526.8" r="2.95" fill="#0000f4" stroke="#00006a" stroke-width="0.6"/>
<circle cx="524.8" cy="530.2" r="2.95" fill="#0000f4" stroke="#00006a" stroke-width="0.6"/>
<circle cx="522.4" cy="580.2" r="2.95" fill="#0000f4" stroke="#00006a" stroke-width="0.6"/>
<circle cx="528.0" cy="581.4" r="2.95" fill="#0000f4" stroke="#00006a" stroke-width="0.6"/>
<circle cx="523.6" cy="600.8" r="2.95" fill="#0000f4" stroke="#00006a" stroke-width="0.6"/>
<circle cx="522.6" cy="640.0" r="2.95" fill="#0000f4" stroke="#00006a" stroke-width="0.6"/>
<circle cx="535.4" cy="523.6" r="2.95" fill="#0000f4" stroke="#00006a" stroke-width="0.6"/>
<circle cx="531.7" cy="563.5" r="2.95" fill="#0000f4" stroke="#00006a" stroke-width="0.6"/>
<circle cx="538.7" cy="565.3" r="2.95" fill="#0000f4" stroke="#00006a" stroke-width="0.6"/>
<circle cx="531.8" cy="599.8" r="2.95" fill="#0000f4" stroke="#00006a" stroke-width="0.6"/>
<circle cx="536.7" cy="598.1" r="2.95" fill="#0000f4" stroke="#00006a" stroke-width="0.6"/>
<circle cx="535.6" cy="627.8" r="2.95" fill="#0000f4" stroke="#00006a" stroke-width="0.6"/>
<circle cx="542.8" cy="603.2" r="2.95" fill="#0000f4" stroke="#00006a" stroke-width="0.6"/>
<circle cx="546.8" cy="605.8" r="2.95" fill="#0000f4" stroke="#00006a" stroke-width="0.6"/>
<circle cx="542.6" cy="608.5" r="2.95" fill="#0000f4" stroke="#00006a" stroke-width="0.6"/>
<circle cx="549.7" cy="593.4" r="2.95" fill="#0000f4" stroke="#00006a" stroke-width="0.6"/>
<circle cx="553.0" cy="566.4" r="2.95" fill="#0000f4" stroke="#00006a" stroke-width="0.6"/>
<circle cx="556.6" cy="577.5" r="2.95" fill="#0000f4" stroke="#00006a" stroke-width="0.6"/>
<circle cx="559.5" cy="511.1" r="2.95" fill="#0000f4" stroke="#00006a" stroke-width="0.6"/>
<circle cx="565.3" cy="587.3" r="2.95" fill="#0000f4" stroke="#00006a" stroke-width="0.6"/>
<circle cx="569.6" cy="554.5" r="2.95" fill="#0000f4" stroke="#00006a" stroke-width="0.6"/>
<circle cx="575.1" cy="592.8" r="2.95" fill="#0000f4" stroke="#00006a" stroke-width="0.6"/>
<circle cx="570.8" cy="618.9" r="2.95" fill="#0000f4" stroke="#00006a" stroke-width="0.6"/>
<circle cx="651.5" cy="510.0" r="2.95" fill="#0000f4" stroke="#00006a" stroke-width="0.6"/>
<polygon points="393.9,602.7 398.5,602.2 403.1,601.6 407.8,601.1 412.4,600.6 417.0,600.0 421.6,599.5 426.3,598.9 430.9,598.3 435.5,597.8 440.1,597.2 444.8,596.6 449.4,596.0 454.0,595.3 458.6,594.7 463.2,594.0 467.9,593.3 472.5,592.5 477.1,591.7 481.7,590.9 486.4,589.9 491.0,588.9 495.6,587.8 500.2,586.6 504.9,585.2 509.5,583.8 514.1,582.3 518.7,580.7 523.4,579.0 528.0,577.2 532.6,575.4 537.2,573.6 541.8,571.7 546.5,569.8 551.1,567.9 555.7,566.0 560.3,564.0 565.0,562.1 569.6,560.1 574.2,558.1 578.8,556.2 583.5,554.2 588.1,552.2 592.7,550.2 597.3,548.2 601.9,546.2 606.6,544.1 611.2,542.1 615.8,540.1 620.4,538.1 625.1,536.1 629.7,534.1 634.3,532.0 638.9,530.0 643.6,528.0 648.2,526.0 652.8,523.9 657.4,521.9 662.1,519.9 666.7,517.8 671.3,515.8 671.3,574.2 666.7,574.7 662.1,575.2 657.4,575.7 652.8,576.2 648.2,576.8 643.6,577.3 638.9,577.8 634.3,578.3 629.7,578.8 625.1,579.3 620.4,579.9 615.8,580.4 611.2,580.9 606.6,581.5 601.9,582.0 597.3,582.5 592.7,583.1 588.1,583.6 583.5,584.2 578.8,584.7 574.2,585.3 569.6,585.8 565.0,586.4 560.3,587.0 555.7,587.6 551.1,588.2 546.5,588.8 541.8,589.5 537.2,590.2 532.6,590.9 528.0,591.6 523.4,592.4 518.7,593.3 514.1,594.2 509.5,595.2 504.9,596.3 500.2,597.5 495.6,598.8 491.0,600.3 486.4,601.8 481.7,603.4 477.1,605.1 472.5,606.8 467.9,608.6 463.2,610.5 458.6,612.3 454.0,614.2 449.4,616.1 444.8,618.1 440.1,620.0 435.5,622.0 430.9,623.9 426.3,625.9 421.6,627.9 417.0,629.9 412.4,631.9 407.8,633.9 403.1,635.9 398.5,637.9 393.9,639.9" fill="#ff0000" fill-opacity="0.3"/>
<line x1="393.9" y1="621.3" x2="671.3" y2="545.0" stroke="#dc1a1a" stroke-width="1.9" stroke-dasharray="5.83 4.97" stroke-dashoffset="-4.3"/>
</g>
<rect x="393.9" y="404.1" width="277.4" height="303.9" fill="none" stroke="#333333" stroke-width="1.4"/>
<path d="M388.4 708.0H393.9M391.1 692.8H393.9M668.5 692.8H671.3M388.4 677.6H393.9M665.8 677.6H671.3M391.1 662.4H393.9M668.5 662.4H671.3M388.4 647.2H393.9M665.8 647.2H671.3M391.1 632.0H393.9M668.5 632.0H671.3M388.4 616.8H393.9M665.8 616.8H671.3M391.1 601.6H393.9M668.5 601.6H671.3M388.4 586.4H393.9M665.8 586.4H671.3M391.1 571.2H393.9M668.5 571.2H671.3M388.4 556.0H393.9M665.8 556.0H671.3M391.1 540.9H393.9M668.5 540.9H671.3M388.4 525.7H393.9M665.8 525.7H671.3M391.1 510.5H393.9M668.5 510.5H671.3M388.4 495.3H393.9M665.8 495.3H671.3M391.1 480.1H393.9M668.5 480.1H671.3M388.4 464.9H393.9M665.8 464.9H671.3M391.1 449.7H393.9M668.5 449.7H671.3M388.4 434.5H393.9M665.8 434.5H671.3M391.1 419.3H393.9M668.5 419.3H671.3M388.4 404.1H393.9M393.9 708.0V710.8M417.0 708.0V713.4M440.1 708.0V710.8M463.2 708.0V713.4M486.4 708.0V710.8M509.5 708.0V713.4M532.6 708.0V710.8M555.7 708.0V713.4M578.8 708.0V710.8M601.9 708.0V713.4M625.1 708.0V710.8M648.2 708.0V713.4M671.3 708.0V710.8M421.6 404.1V406.7M449.4 404.1V409.1M477.1 404.1V406.7M504.9 404.1V409.1M532.6 404.1V406.7M560.3 404.1V409.1M588.1 404.1V406.7M615.8 404.1V409.1M643.6 404.1V406.7" stroke="#333333" stroke-width="1.4" fill="none"/>
<text x="385.1" y="711.7" text-anchor="end" font-size="11.7" fill="#0a0a0a" stroke="#0a0a0a" stroke-width="0.08">32</text>
<text x="385.1" y="681.3" text-anchor="end" font-size="11.7" fill="#0a0a0a" stroke="#0a0a0a" stroke-width="0.08">33</text>
<text x="385.1" y="650.9" text-anchor="end" font-size="11.7" fill="#0a0a0a" stroke="#0a0a0a" stroke-width="0.08">34</text>
<text x="385.1" y="620.5" text-anchor="end" font-size="11.7" fill="#0a0a0a" stroke="#0a0a0a" stroke-width="0.08">35</text>
<text x="385.1" y="590.1" text-anchor="end" font-size="11.7" fill="#0a0a0a" stroke="#0a0a0a" stroke-width="0.08">36</text>
<text x="385.1" y="559.8" text-anchor="end" font-size="11.7" fill="#0a0a0a" stroke="#0a0a0a" stroke-width="0.08">37</text>
<text x="385.1" y="529.4" text-anchor="end" font-size="11.7" fill="#0a0a0a" stroke="#0a0a0a" stroke-width="0.08">38</text>
<text x="385.1" y="499.0" text-anchor="end" font-size="11.7" fill="#0a0a0a" stroke="#0a0a0a" stroke-width="0.08">39</text>
<text x="385.1" y="468.6" text-anchor="end" font-size="11.7" fill="#0a0a0a" stroke="#0a0a0a" stroke-width="0.08">40</text>
<text x="385.1" y="438.2" text-anchor="end" font-size="11.7" fill="#0a0a0a" stroke="#0a0a0a" stroke-width="0.08">41</text>
<text x="385.1" y="407.8" text-anchor="end" font-size="11.7" fill="#0a0a0a" stroke="#0a0a0a" stroke-width="0.08">42</text>
<text x="417.0" y="725.9" text-anchor="middle" font-size="11.7" fill="#0a0a0a" stroke="#0a0a0a" stroke-width="0.08">37.5</text>
<text x="463.2" y="725.9" text-anchor="middle" font-size="11.7" fill="#0a0a0a" stroke="#0a0a0a" stroke-width="0.08">38.0</text>
<text x="509.5" y="725.9" text-anchor="middle" font-size="11.7" fill="#0a0a0a" stroke="#0a0a0a" stroke-width="0.08">38.5</text>
<text x="555.7" y="725.9" text-anchor="middle" font-size="11.7" fill="#0a0a0a" stroke="#0a0a0a" stroke-width="0.08">39.0</text>
<text x="601.9" y="725.9" text-anchor="middle" font-size="11.7" fill="#0a0a0a" stroke="#0a0a0a" stroke-width="0.08">39.5</text>
<text x="648.2" y="725.9" text-anchor="middle" font-size="11.7" fill="#0a0a0a" stroke="#0a0a0a" stroke-width="0.08">40.0</text>
<text x="508.2" y="762.9" font-size="13.8" fill="#0a0a0a" stroke="#0a0a0a" stroke-width="0.08">Log <tspan font-style="italic">L</tspan><tspan font-size="9.2" dx="-0.6" dy="3.3">IR</tspan><tspan dy="-3.3"> (W)</tspan></text>
<text x="364.0" y="609.9" transform="rotate(-90 364.0 609.9)" font-size="14.3" fill="#0a0a0a" stroke="#0a0a0a" stroke-width="0.08">Log <tspan font-style="italic">L</tspan><tspan font-size="9.2" dx="-0.6" dy="3.3">X-ray</tspan><tspan dy="-3.3"> (W)</tspan></text>
</svg>
</body></html>
